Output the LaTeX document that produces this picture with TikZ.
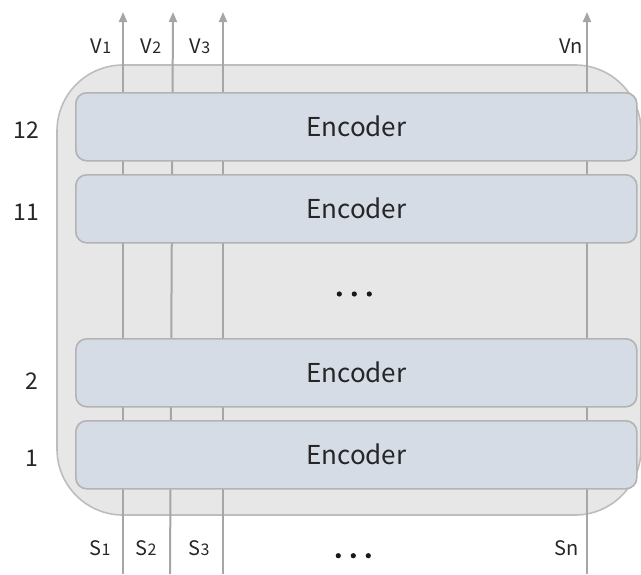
\documentclass[tikz,border=0pt]{standalone}
\usepackage{fontspec}
\setmainfont{Noto Sans CJK SC}
\usetikzlibrary{arrows.meta}
\definecolor{outerfill}{HTML}{E7E7E7}
\definecolor{outerdraw}{HTML}{BDBDBD}
\definecolor{encfill}{HTML}{D6DCE5}
\definecolor{encdraw}{HTML}{B3B3B3}
\definecolor{linegray}{HTML}{A6A6A6}
\definecolor{txt}{HTML}{262626}
\tikzset{
  outerbox/.style={draw=outerdraw, line width=1.6pt, fill=outerfill, rounded corners=66pt},
  encbox/.style={draw=encdraw, line width=1.6pt, fill=encfill, rounded corners=11pt,
     minimum width=561pt, minimum height=68pt, inner sep=0pt, anchor=north west,
     font=\fontsize{26}{26}\selectfont, text=txt},
  token/.style={draw=linegray, line width=2pt},
  tokarrow/.style={token, -{Triangle[length=10pt,width=8pt]}},
  lbl/.style={font=\fontsize{20}{20}\selectfont, text=txt, inner sep=0pt},
  layer/.style={font=\fontsize{23}{23}\selectfont, text=txt, inner sep=0pt},
  dotmark/.style={circle, fill=black!90, inner sep=0pt, minimum size=5.2pt}
}
\newcommand{\sm}[1]{{\fontsize{16}{16}\selectfont #1}}
\begin{document}
\begin{tikzpicture}[x=1pt,y=-1pt]
\useasboundingbox (0,0) rectangle (641,574);
\fill[white] (0,0) rectangle (641,574);
\draw[outerbox] (57,65) rectangle (641,515);
% token lines
\coordinate (s1) at (123,574); \coordinate (v1) at (123,12);
\coordinate (s2) at (170,574); \coordinate (v2) at (173,12);
\coordinate (s3) at (223,574); \coordinate (v3) at (223,12);
\coordinate (sn) at (587,574); \coordinate (vn) at (587,12);
\draw[tokarrow] (s1) -- (v1);
\draw[tokarrow] (s2) -- (v2);
\draw[tokarrow] (s3) -- (v3);
\draw[tokarrow] (sn) -- (vn);
% encoders
\node[encbox] (e12) at (75,92) {Encoder};
\node[encbox] (e11) at (75,174) {Encoder};
\node[encbox] (e2) at (75,338) {Encoder};
\node[encbox] (e1) at (75,420) {Encoder};
% middle dots
\node[dotmark] (m1) at (339.3,294) {};
\node[dotmark] (m2) at (354.3,294) {};
\node[dotmark] (m3) at (369.3,294) {};
% layer numbers
\node[layer] (n12) at (26,130) {12};
\node[layer] (n11) at (26,212) {11};
\node[layer] (n2) at (32,381) {2};
\node[layer] (n1) at (32,458) {1};
% output labels
\node[lbl] (lv1) at (101,46) {V\sm{1}};
\node[lbl] (lv2) at (151,46) {V\sm{2}};
\node[lbl] (lv3) at (200,46) {V\sm{3}};
\node[lbl] (lvn) at (571,46) {Vn};
% input labels
\node[lbl] (ls1) at (100,548) {S\sm{1}};
\node[lbl] (ls2) at (146,548) {S\sm{2}};
\node[lbl] (ls3) at (199,548) {S\sm{3}};
\node[lbl] (lsn) at (567,548) {Sn};
% bottom dots
\node[dotmark] (b1) at (338.3,555.7) {};
\node[dotmark] (b2) at (353.3,555.7) {};
\node[dotmark] (b3) at (368.3,555.7) {};
\end{tikzpicture}
\end{document}
